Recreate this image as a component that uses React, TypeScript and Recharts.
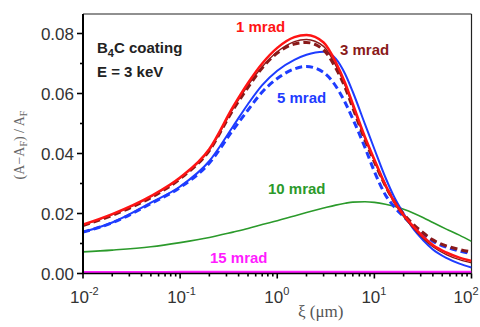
import React from "react";
import { LineChart, Line, XAxis, YAxis, ReferenceLine } from "recharts";

// Coherence length ξ (µm) at which each curve is sampled
const xi = [0.01, 0.02, 0.05, 0.1, 0.2, 0.35, 0.5, 0.7, 1, 1.5, 2, 3, 4, 5, 6, 8, 10, 13, 16, 20, 25, 32, 40, 55, 75, 100];

// (A - A_F) / A_F for each grazing angle
const mrad1Solid = [0.0163, 0.0198, 0.0258, 0.032, 0.0415, 0.0555, 0.0635, 0.07, 0.0752, 0.0788, 0.0795, 0.077, 0.0705, 0.0635, 0.0565, 0.0455, 0.038, 0.0295, 0.024, 0.0195, 0.0158, 0.0122, 0.0095, 0.007, 0.0053, 0.0042];
const mrad3Solid = [0.0161, 0.0196, 0.0256, 0.0318, 0.0411, 0.0549, 0.0627, 0.0689, 0.0739, 0.0773, 0.078, 0.0757, 0.0694, 0.0626, 0.0557, 0.0449, 0.0375, 0.029, 0.0236, 0.019, 0.0152, 0.0116, 0.0089, 0.0063, 0.0046, 0.0036];
const mrad3Dashed = [0.016, 0.0194, 0.0253, 0.0316, 0.041, 0.0545, 0.062, 0.0685, 0.0735, 0.0765, 0.077, 0.0745, 0.0685, 0.062, 0.0552, 0.0445, 0.0372, 0.0292, 0.024, 0.0198, 0.0165, 0.0135, 0.0112, 0.0092, 0.008, 0.0072];
const mrad5Solid = [0.0138, 0.017, 0.0236, 0.029, 0.0375, 0.049, 0.0565, 0.0628, 0.0676, 0.0712, 0.0729, 0.0739, 0.0716, 0.0665, 0.0605, 0.0498, 0.0415, 0.032, 0.0255, 0.02, 0.015, 0.011, 0.008, 0.0052, 0.0033, 0.002];
const mrad5Dashed = [0.0138, 0.0169, 0.0233, 0.0287, 0.0368, 0.0478, 0.0545, 0.0605, 0.065, 0.0682, 0.069, 0.067, 0.0625, 0.057, 0.0515, 0.042, 0.034, 0.0262, 0.0222, 0.019, 0.016, 0.013, 0.0108, 0.0088, 0.0075, 0.0066];
const mrad10 = [0.0072, 0.0078, 0.0089, 0.0103, 0.012, 0.0138, 0.015, 0.0163, 0.0176, 0.0192, 0.0203, 0.0218, 0.0228, 0.0234, 0.0238, 0.0239, 0.0237, 0.0231, 0.0224, 0.0214, 0.0202, 0.0186, 0.017, 0.0148, 0.0128, 0.0107];
const mrad15 = [0.0004, 0.0004, 0.0004, 0.0005, 0.0005, 0.0005, 0.0005, 0.0005, 0.0005, 0.0005, 0.0005, 0.0005, 0.0005, 0.0005, 0.0005, 0.0005, 0.0005, 0.0005, 0.0005, 0.0005, 0.0005, 0.0005, 0.0005, 0.0005, 0.0005, 0.0005];

// Axis ticks
const xDecades = [0.01, 0.1, 1, 10, 100];
const xMinorSteps = [2, 3, 4, 5, 6, 7, 8, 9];
const yTickValues = [0, 0.01, 0.02, 0.03, 0.04, 0.05, 0.06, 0.07, 0.08];
const yMax = 0.0865;

const xTicks: number[] = [];
xDecades.forEach((d, i) => {
  xTicks.push(d);
  if (i < xDecades.length - 1) xMinorSteps.forEach((m) => xTicks.push(d * m));
});

const rows = xi.map((x, i) => ({
  xi: x,
  s1: mrad1Solid[i],
  s3: mrad3Solid[i],
  d3: mrad3Dashed[i],
  s5: mrad5Solid[i],
  d5: mrad5Dashed[i],
  s10: mrad10[i],
  s15: mrad15[i],
}));

const RED = "#ff1414";
const DARKRED = "#8a1a1a";
const BLUE = "#1e3cff";
const GREEN = "#2b9a2b";
const MAGENTA = "#ff1cff";
const TICK_FONT = "'Liberation Sans', Arial, sans-serif";
const SERIF = "'Liberation Serif', 'Times New Roman', serif";

const YTick = (props: any) => {
  const { x, y, payload } = props;
  const v: number = payload.value;
  const major = Math.round(v * 100) % 2 === 0;
  return (
    <g>
      <line x1={x - (major ? 6 : 3)} x2={x} y1={y} y2={y} stroke="#000" strokeWidth={1.6} />
      {major && (
        <text x={x - 9} y={y} dy="0.36em" textAnchor="end" fontSize={17} fontFamily={TICK_FONT} fill="#333">
          {v.toFixed(2)}
        </text>
      )}
    </g>
  );
};

const XTick = (props: any) => {
  const { x, y, payload } = props;
  const v: number = payload.value;
  const exp = Math.log10(v);
  const major = Math.abs(exp - Math.round(exp)) < 1e-6;
  const last = Math.round(exp) === 2;
  return (
    <g>
      <line x1={x} x2={x} y1={y} y2={y + (major ? 5 : 3)} stroke="#000" strokeWidth={1.6} />
      {major && (
        <text x={last ? x + 7 : x - 13} y={y + 29} textAnchor={last ? "end" : "start"} fontSize={17} fontFamily={TICK_FONT} fill="#333">
          10
          <tspan dy={-8} fontSize={11}>{Math.round(exp)}</tspan>
        </text>
      )}
    </g>
  );
};

const labelStyle = { fontFamily: TICK_FONT, fontWeight: 700 as const, fontSize: 15 };

export default function App() {
  return (
    <div style={{ position: "absolute", left: 0, top: 0, width: 480, height: 327, background: "#fff" }}>
      <LineChart width={480} height={327} data={rows} margin={{ top: 14, right: 8.5, left: 0, bottom: 0 }}>
        <XAxis
          dataKey="xi"
          type="number"
          scale="log"
          domain={[0.01, 100]}
          ticks={xTicks}
          interval={0}
          height={53.5}
          tickSize={0}
          tickMargin={0}
          tickLine={false}
          tick={<XTick />}
          axisLine={{ stroke: "#000", strokeWidth: 1.6 }}
          allowDataOverflow
        />
        <YAxis
          type="number"
          domain={[0, yMax]}
          ticks={yTickValues}
          interval={0}
          width={83}
          tickSize={0}
          tickMargin={0}
          tickLine={false}
          tick={<YTick />}
          axisLine={{ stroke: "#000", strokeWidth: 2 }}
          allowDataOverflow
        />
        <ReferenceLine y={yMax} stroke="#222" strokeWidth={1.2} />
        <ReferenceLine x={100} stroke="#222" strokeWidth={1.2} />
        <Line dataKey="s10" stroke={GREEN} strokeWidth={1.6} dot={false} type="monotone" isAnimationActive={false} />
        <Line dataKey="s15" stroke={MAGENTA} strokeWidth={2.5} dot={false} type="monotone" isAnimationActive={false} />
        <Line dataKey="d5" stroke={BLUE} strokeWidth={3} strokeDasharray="7 4" dot={false} type="monotone" isAnimationActive={false} />
        <Line dataKey="s5" stroke={BLUE} strokeWidth={2} dot={false} type="monotone" isAnimationActive={false} />
        <Line dataKey="d3" stroke={DARKRED} strokeWidth={3} strokeDasharray="7 4" dot={false} type="monotone" isAnimationActive={false} />
        <Line dataKey="s3" stroke={DARKRED} strokeWidth={1.4} dot={false} type="monotone" isAnimationActive={false} />
        <Line dataKey="s1" stroke={RED} strokeWidth={2.5} dot={false} type="monotone" isAnimationActive={false} />
      </LineChart>
      <svg width={480} height={327} style={{ position: "absolute", left: 0, top: 0, pointerEvents: "none" }}>
        <text x={97} y={53} {...labelStyle} fill="#222">
          B<tspan dy={4} fontSize={11}>4</tspan>
          <tspan dy={-4}>C coating</tspan>
        </text>
        <text x={97} y={77} {...labelStyle} fill="#222">E = 3 keV</text>
        <text x={236} y={32} {...labelStyle} fill={RED}>1 mrad</text>
        <text x={340} y={55} {...labelStyle} fill={DARKRED}>3 mrad</text>
        <text x={277} y={103} {...labelStyle} fill={BLUE}>5 mrad</text>
        <text x={268} y={194} {...labelStyle} fill={GREEN}>10 mrad</text>
        <text x={210} y={263} {...labelStyle} fill={MAGENTA}>15 mrad</text>
        <text x={298} y={317} fontFamily={SERIF} fontSize={17} fill="#555">ξ (μm)</text>
        <text
          transform="translate(24 145) rotate(-90)"
          textAnchor="middle"
          fontFamily={SERIF}
          fontSize={14}
          fill="#666"
        >
          (A−A<tspan dy={3} fontSize={10}>F</tspan>
          <tspan dy={-3}>) / A</tspan>
          <tspan dy={3} fontSize={10}>F</tspan>
        </text>
      </svg>
    </div>
  );
}
